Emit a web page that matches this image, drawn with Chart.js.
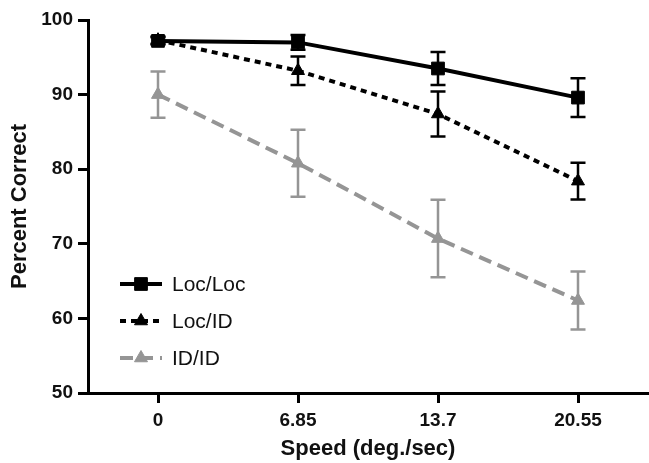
<!DOCTYPE html>
<html>
<head>
<meta charset="utf-8">
<script src="https://cdn.jsdelivr.net/npm/chart.js"></script>
<style>
  body { margin: 0; background: #fff; }
</style>
</head>
<body>
<canvas id="myChart" width="649" height="463"></canvas>
<script>
const speeds = ['0', '6.85', '13.7', '20.55'];
const locLoc = [97.2, 97.0, 93.5, 89.6];
const locLocErr = [0.5, 1.0, 2.2, 2.6];
const locId = [97.3, 93.2, 87.4, 78.4];
const locIdErr = [0.5, 1.9, 3.0, 2.45];
const idId = [90.0, 80.8, 70.7, 62.4];
const idIdErr = [3.1, 4.5, 5.2, 3.9];

const FONT = '"Liberation Sans", Arial, Helvetica, sans-serif';
const GREY = '#959595';

// error bars, drawn under the lines/markers
const errorBars = {
  id: 'errorBars',
  beforeDatasetsDraw(chart) {
    const {ctx, scales: {y}} = chart;
    ctx.save();
    chart.data.datasets.forEach((ds, i) => {
      const meta = chart.getDatasetMeta(i);
      ctx.strokeStyle = ds.borderColor;
      ctx.lineWidth = 2.5;
      ctx.setLineDash([]);
      meta.data.forEach((pt, j) => {
        const top = y.getPixelForValue(ds.data[j] + ds.errors[j]);
        const bot = y.getPixelForValue(ds.data[j] - ds.errors[j]);
        ctx.beginPath();
        ctx.moveTo(pt.x, top); ctx.lineTo(pt.x, bot);
        ctx.moveTo(pt.x - 7.5, top); ctx.lineTo(pt.x + 7.5, top);
        ctx.moveTo(pt.x - 7.5, bot); ctx.lineTo(pt.x + 7.5, bot);
        ctx.stroke();
      });
    });
    ctx.restore();
  }
};

// legend inside the plot, bottom left
const insideLegend = {
  id: 'insideLegend',
  afterDraw(chart) {
    const {ctx, chartArea} = chart;
    ctx.save();
    chart.data.datasets.forEach((ds, i) => {
      const y = chartArea.top + 264 + i * 37;
      const x0 = chartArea.left + 32, x1 = chartArea.left + 74;
      ctx.strokeStyle = ds.borderColor;
      ctx.fillStyle = ds.borderColor;
      ctx.lineWidth = ds.borderWidth;
      ctx.setLineDash(ds.borderDash || []);
      ctx.beginPath();
      ctx.moveTo(x0, y); ctx.lineTo(x1, y);
      ctx.stroke();
      ctx.setLineDash([]);
      ctx.lineWidth = 1;
      Chart.helpers.drawPoint(ctx, {pointStyle: ds.pointStyle, radius: ds.pointRadius, rotation: 0, borderWidth: 1}, (x0 + x1) / 2, y);
      ctx.fillStyle = '#111';
      ctx.font = '21px ' + FONT;
      ctx.textBaseline = 'middle';
      ctx.fillText(ds.label, chartArea.left + 84, y + 1);
    });
    ctx.restore();
  }
};

const ctx = document.getElementById('myChart');
new Chart(ctx, {
  type: 'line',
  data: {
    labels: speeds,
    datasets: [
      {
        label: 'Loc/Loc',
        data: locLoc,
        errors: locLocErr,
        borderColor: '#000',
        backgroundColor: '#000',
        borderWidth: 4,
        pointStyle: 'rect',
        pointRadius: 9,
        pointBorderWidth: 1
      },
      {
        label: 'Loc/ID',
        data: locId,
        errors: locIdErr,
        borderColor: '#000',
        backgroundColor: '#000',
        borderWidth: 4,
        borderDash: [6, 5],
        pointStyle: 'triangle',
        pointRadius: 7.5,
        pointBorderWidth: 1
      },
      {
        label: 'ID/ID',
        data: idId,
        errors: idIdErr,
        borderColor: GREY,
        backgroundColor: GREY,
        borderWidth: 4,
        borderDash: [13, 7],
        pointStyle: 'triangle',
        pointRadius: 7.5,
        pointBorderWidth: 1
      }
    ]
  },
  options: {
    responsive: false,
    animation: false,
    layout: { autoPadding: false, padding: { top: 20, right: 1, left: 0, bottom: 0 } },
    plugins: {
      legend: { display: false },
      tooltip: { enabled: false }
    },
    scales: {
      x: {
        offset: true,
        afterFit: (s) => { s.height = 70; s.paddingLeft = 0; s.paddingRight = 0; },
        grid: { offset: false, drawOnChartArea: false, tickLength: 10, tickWidth: 3, tickColor: '#000' },
        border: { color: '#000', width: 3 },
        ticks: { color: '#111', padding: 6, font: { family: FONT, size: 19, weight: 'bold' } },
        title: {
          display: true,
          text: 'Speed (deg./sec)',
          color: '#111',
          padding: { top: 0, bottom: 1 },
          font: { family: FONT, size: 22, weight: 'bold' }
        }
      },
      y: {
        min: 50,
        max: 100,
        afterFit: (s) => { s.width = 88; },
        grid: { drawOnChartArea: false, tickLength: 10, tickWidth: 3, tickColor: '#000' },
        border: { color: '#000', width: 3 },
        ticks: { stepSize: 10, color: '#111', padding: 5, font: { family: FONT, size: 19, weight: 'bold' } },
        title: {
          display: true,
          text: 'Percent Correct',
          color: '#111',
          padding: { top: 7, bottom: 0 },
          font: { family: FONT, size: 22, weight: 'bold' }
        }
      }
    }
  },
  plugins: [errorBars, insideLegend]
});
</script>
</body>
</html>
